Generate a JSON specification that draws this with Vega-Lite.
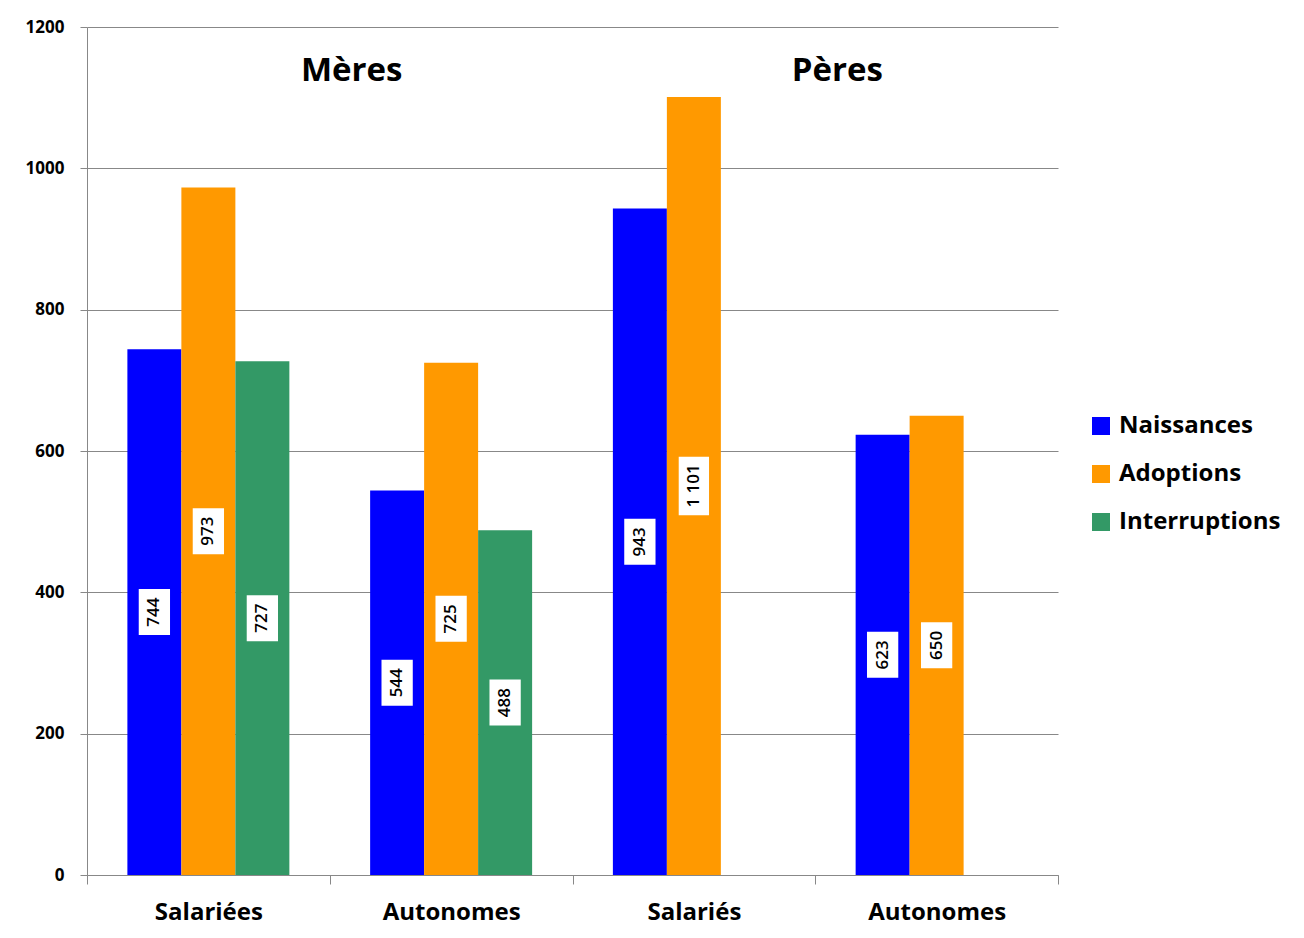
{
  "$schema": "https://vega.github.io/schema/vega-lite/v6.json",
  "width": 971,
  "height": 848,
  "autosize": {"type": "none"},
  "padding": {"left": 87, "top": 27, "right": 246, "bottom": 63},
  "background": "white",
  "config": {"font": "Open Sans", "view": {"stroke": null}},
  "datasets": {
    "bars": [
      {"cat": "M-Salariées", "serie": "Naissances", "valeur": 744, "label": "744"},
      {"cat": "M-Salariées", "serie": "Adoptions", "valeur": 973, "label": "973"},
      {"cat": "M-Salariées", "serie": "Interruptions", "valeur": 727, "label": "727"},
      {"cat": "M-Autonomes", "serie": "Naissances", "valeur": 544, "label": "544"},
      {"cat": "M-Autonomes", "serie": "Adoptions", "valeur": 725, "label": "725"},
      {"cat": "M-Autonomes", "serie": "Interruptions", "valeur": 488, "label": "488"},
      {"cat": "P-Salariés", "serie": "Naissances", "valeur": 943, "label": "943"},
      {"cat": "P-Salariés", "serie": "Adoptions", "valeur": 1101, "label": "1 101"},
      {"cat": "P-Autonomes", "serie": "Naissances", "valeur": 623, "label": "623"},
      {"cat": "P-Autonomes", "serie": "Adoptions", "valeur": 650, "label": "650"}
    ],
    "groups": [
      {"cat": "M-Autonomes", "parent": "Mères"},
      {"cat": "P-Autonomes", "parent": "Pères"}
    ]
  },
  "layer": [
    {
      "data": {"name": "bars"},
      "mark": {"type": "bar"},
      "encoding": {
        "x": {
          "field": "cat", "type": "nominal",
          "sort": ["M-Salariées", "M-Autonomes", "P-Salariés", "P-Autonomes"],
          "scale": {"domain": ["M-Salariées", "M-Autonomes", "P-Salariés", "P-Autonomes"], "paddingInner": 0, "paddingOuter": 0},
          "axis": {
            "title": null, "labelAngle": 0, "tickBand": "extent", "tickSize": 9,
            "tickColor": "#888888", "domainColor": "#888888",
            "labelExpr": "split(datum.label, '-')[1]",
            "labelFontSize": 24, "labelFontWeight": "bold", "labelColor": "black",
            "labelPadding": 16
          }
        },
        "xOffset": {
          "field": "serie", "type": "nominal",
          "scale": {"domain": ["Naissances", "Adoptions", "Interruptions"], "paddingInner": 0, "paddingOuter": 0.748}
        },
        "y": {
          "field": "valeur", "type": "quantitative",
          "scale": {"domain": [0, 1200]},
          "axis": {
            "title": null, "values": [0, 200, 400, 600, 800, 1000, 1200], "format": "d",
            "grid": true, "gridColor": "#888888", "domainColor": "#888888",
            "tickColor": "#888888", "tickSize": 7, "labelPadding": 16,
            "labelFontSize": 17, "labelFontWeight": "bold", "labelColor": "black"
          }
        },
        "color": {
          "field": "serie", "type": "nominal",
          "scale": {"domain": ["Naissances", "Adoptions", "Interruptions"], "range": ["#0000FF", "#FF9900", "#339966"]},
          "legend": {
            "title": null, "orient": "none", "legendX": 1002, "legendY": 387,
            "symbolType": "square", "symbolSize": 324, "symbolStrokeWidth": 0, "symbolOpacity": 1,
            "labelFontSize": 24, "labelFontWeight": "bold", "labelColor": "black",
            "labelOffset": 6, "rowPadding": 24, "labelLimit": 400
          }
        }
      }
    },
    {
      "data": {"name": "bars"},
      "mark": {"type": "point", "filled": true, "color": "white", "opacity": 1, "strokeWidth": 0},
      "encoding": {
        "x": {"field": "cat", "type": "nominal"},
        "xOffset": {"field": "serie", "type": "nominal"},
        "y": {"field": "valeur", "type": "quantitative", "scale": {"domain": [0, 2400]}, "axis": null},
        "shape": {"condition": {"test": "datum.valeur >= 1000", "value": "M-0.52,-1L0.52,-1L0.52,1L-0.52,1Z"}, "value": "M-0.68,-1L0.68,-1L0.68,1L-0.68,1Z"},
        "size": {"condition": {"test": "datum.valeur >= 1000", "value": 3400}, "value": 2116}
      }
    },
    {
      "data": {"name": "bars"},
      "mark": {"type": "text", "angle": 270, "fontSize": 17, "fontWeight": 600, "color": "black", "align": "center", "baseline": "middle"},
      "encoding": {
        "x": {"field": "cat", "type": "nominal"},
        "xOffset": {"field": "serie", "type": "nominal"},
        "y": {"field": "valeur", "type": "quantitative", "scale": {"domain": [0, 2400]}, "axis": null},
        "text": {"field": "label"}
      }
    },
    {
      "data": {"name": "groups"},
      "mark": {"type": "text", "fontSize": 33, "fontWeight": "bold", "color": "black", "dx": 22, "align": "center", "baseline": "middle"},
      "encoding": {
        "x": {"field": "cat", "type": "nominal", "bandPosition": 0},
        "y": {"datum": 1138, "type": "quantitative", "scale": {"domain": [0, 1200]}, "axis": null},
        "text": {"field": "parent"}
      }
    }
  ],
  "resolve": {"scale": {"y": "independent"}}
}
